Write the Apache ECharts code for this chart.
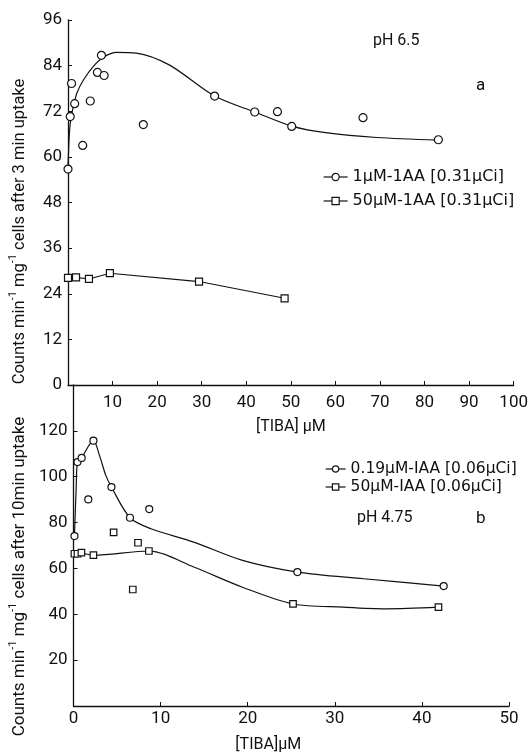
<!DOCTYPE html>
<html>
<head>
<meta charset="utf-8">
<script src="https://cdn.jsdelivr.net/npm/echarts@6/dist/echarts.min.js"></script>
<style>html,body{margin:0;padding:0;background:#fff}#c{width:531px;height:754px}</style>
</head>
<body>
<div id="c"></div>
<script>
// ---- Panel a (pH 6.5, 3 min uptake) ----
const aTopXTicks = [0, 100, 10];      // min, max, interval
const aTopYTicks = [0, 96, 12];
const aCirclePts = [[0,56.8],[0.5,70.6],[0.8,79.3],[1.5,74.0],[3.3,63.0],[5.0,74.7],[6.6,82.2],[8.1,81.4],[7.5,86.7],[16.9,68.5],[32.9,76.0],[41.9,71.8],[47.0,71.9],[50.2,68.0],[66.2,70.3],[83.1,64.5]];
const aCircleCurve = [[0,57],[0.23,64.5],[0.52,68.9],[1.04,72.4],[2.0,76.8],[3.5,80.3],[5.7,83.8],[7.9,86.2],[10.9,87.5],[15.3,87.3],[22.7,84.2],[32.9,76.0],[41.9,71.8],[50.2,68.1],[58.2,66.3],[69.3,65.1],[83.1,64.4]];
const aSquarePts = [[0,28.2],[1.8,28.3],[4.7,27.9],[9.4,29.4],[29.4,27.2],[48.6,22.8]];
const aNames = ['1\u03bcM-1AA [0.31\u03bcCi]', '50\u03bcM-1AA [0.31\u03bcCi]'];

// ---- Panel b (pH 4.75, 10 min uptake) ----
const bXTicks = [0, 50, 10];
const bYTicks = [0, 140, 20];
const bCirclePts = [[0.1,74.1],[0.45,106.4],[0.93,108.2],[2.28,115.7],[1.69,90.1],[4.35,95.5],[6.48,82.1],[8.69,85.9],[25.7,58.4],[42.5,52.3]];
const bCircleCurve = [[0.1,74],[0.3,95],[0.45,106.2],[0.93,108.4],[2.28,115.7],[3.0,109],[3.7,100.6],[4.35,95.5],[6.48,82.1],[8.9,77.3],[13.8,71.5],[19.4,63.5],[25.7,58.4],[33.3,55.5],[42.5,52.3]];
const bSquarePts = [[0.1,66.4],[0.45,66.4],[0.9,66.9],[2.28,65.8],[4.6,75.7],[7.4,71.2],[6.8,50.8],[8.65,67.6],[25.2,44.5],[41.9,43.1]];
const bSquareCurve = [[0.1,66.4],[0.9,66.6],[2.28,65.8],[8.65,67.6],[13.8,60.6],[19.4,51.8],[25.2,44.5],[31,43.1],[35.9,42.4],[41.9,43.1]];
const bNames = ['0.19\u03bcM-IAA [0.06\u03bcCi]', '50\u03bcM-IAA [0.06\u03bcCi]'];

const FONT = 'Roboto';
const LFONT = 'DejaVu Sans';
const ink = '#111';
const chart = echarts.init(document.getElementById('c'));

function yName(t2) {
  return '{a|Counts min}{s|-1}{a| mg}{s|-1}{a|' + t2 + '}';
}
function richY(fs) {
  return {
    a: {fontSize: fs, fontFamily: FONT, color: ink, lineHeight: 20, verticalAlign: 'bottom'},
    s: {fontSize: 11, fontFamily: FONT, color: ink, lineHeight: 20, verticalAlign: 'top'}
  };
}
const axisLabel = {color: ink, fontSize: 17, fontFamily: FONT};
const axisLine = {lineStyle: {color: ink, width: 1.3}};
const axisTick = {inside: true, length: 4, lineStyle: {color: ink}};

function pts(name, data, sym, size, xi) {
  return {name, type: 'line', data, xAxisIndex: xi, yAxisIndex: xi, symbol: sym, symbolSize: size,
    lineStyle: {width: 0, opacity: 0}, itemStyle: {color: '#fff', borderColor: ink, borderWidth: 1.2},
    z: 3, silent: true, animation: false};
}
function curve(data, xi) {
  return {type: 'line', data, xAxisIndex: xi, yAxisIndex: xi, smooth: 0.3, symbol: 'none',
    lineStyle: {color: ink, width: 1.2}, z: 2, silent: true, animation: false};
}

chart.setOption({
  backgroundColor: '#fff',
  animation: false,
  grid: [
    {left: 64, right: 16, top: 20, height: 365},
    {left: 64, right: 22, top: 385, height: 322}
  ],
  xAxis: [
    {type: 'value', gridIndex: 0, min: aTopXTicks[0], max: aTopXTicks[1], interval: aTopXTicks[2],
     axisLine, axisTick, splitLine: {show: false}, axisLabel: {...axisLabel, showMinLabel: false, margin: 9},
     name: '[TIBA] \u03bcM', nameLocation: 'middle', nameGap: 34,
     nameTextStyle: {color: ink, fontSize: 16, fontFamily: FONT}},
    {type: 'value', gridIndex: 1, min: bXTicks[0], max: bXTicks[1], interval: bXTicks[2],
     axisLine, axisTick, splitLine: {show: false}, axisLabel: {...axisLabel, margin: 4},
     name: '[TIBA]\u03bcM', nameLocation: 'middle', nameGap: 31,
     nameTextStyle: {color: ink, fontSize: 16, fontFamily: FONT, padding: [0, 46, 0, 0]}}
  ],
  yAxis: [
    {type: 'value', gridIndex: 0, min: aTopYTicks[0], max: aTopYTicks[1], interval: aTopYTicks[2],
     axisLine: {show: true, ...axisLine}, axisTick: {show: true, ...axisTick}, splitLine: {show: false},
     axisLabel: {...axisLabel, margin: 6},
     name: yName(' cells after 3 min uptake'), nameLocation: 'middle', nameGap: 40, nameRotate: 90,
     nameTextStyle: {rich: richY(16.5), padding: [0, 58, 0, 0]}},
    {type: 'value', gridIndex: 1, min: bYTicks[0], max: bYTicks[1], interval: bYTicks[2],
     axisLine: {show: true, ...axisLine}, axisTick: {show: true, ...axisTick}, splitLine: {show: false},
     axisLabel: {...axisLabel, margin: 6, showMinLabel: false, showMaxLabel: false},
     name: yName(' cells after 10min uptake'), nameLocation: 'middle', nameGap: 40, nameRotate: 90,
     nameTextStyle: {rich: richY(17), padding: [0, 62, 0, 0]}}
  ],
  legend: [
    {data: aNames, left: 318, top: 164, orient: 'vertical', itemGap: 8, itemWidth: 24, itemHeight: 9,
     textStyle: {color: ink, fontSize: 16, fontFamily: LFONT}, lineStyle: {color: ink, width: 1.2, opacity: 1},
     itemStyle: {color: '#fff', borderColor: ink, borderWidth: 1.2}, selectedMode: false},
    {data: bNames, left: 320, top: 456, orient: 'vertical', itemGap: 2, itemWidth: 20, itemHeight: 8,
     textStyle: {color: ink, fontSize: 15.5, fontFamily: LFONT}, lineStyle: {color: ink, width: 1.2, opacity: 1},
     itemStyle: {color: '#fff', borderColor: ink, borderWidth: 1.2}, selectedMode: false}
  ],
  series: [
    curve(aCircleCurve, 0),
    pts(aNames[0], aCirclePts, 'circle', 8, 0),
    {name: aNames[1], type: 'line', data: aSquarePts, xAxisIndex: 0, yAxisIndex: 0, symbol: 'rect', symbolSize: 7,
     lineStyle: {color: ink, width: 1.1}, itemStyle: {color: '#fff', borderColor: ink, borderWidth: 1.2}, z: 3, animation: false},
    curve(bCircleCurve, 1),
    curve(bSquareCurve, 1),
    pts(bNames[0], bCirclePts, 'circle', 7, 1),
    pts(bNames[1], bSquarePts, 'rect', 6.5, 1)
  ],
  graphic: [
    {type: 'text', left: 373, top: 33, style: {text: 'pH 6.5', fontSize: 16, fontFamily: FONT, fill: ink}},
    {type: 'text', left: 476, top: 77, style: {text: 'a', fontSize: 17, fontFamily: FONT, fill: ink}},
    {type: 'text', left: 357, top: 510, style: {text: 'pH 4.75', fontSize: 16, fontFamily: FONT, fill: ink}},
    {type: 'text', left: 476, top: 510, style: {text: 'b', fontSize: 17, fontFamily: FONT, fill: ink}}
  ]
});
</script>
</body>
</html>
